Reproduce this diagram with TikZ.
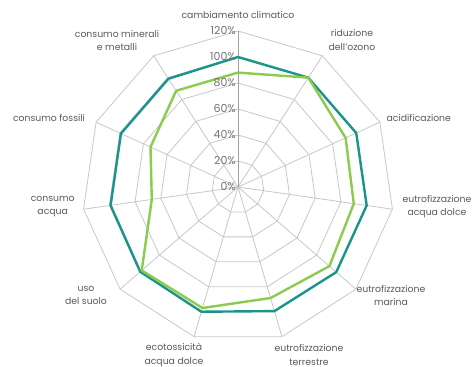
\documentclass[tikz,border=0pt]{standalone}
\usepackage{fontspec}
\setmainfont{Poppins}
\definecolor{serA}{HTML}{1B958A}
\definecolor{serB}{HTML}{8DCB4E}
\definecolor{gridc}{HTML}{C8C8C8}
\definecolor{txtc}{HTML}{5A5A5A}
\begin{document}
\begin{tikzpicture}[x=1pt,y=-1pt,
  gridline/.style={draw=gridc,line width=0.8pt},
  axisline/.style={draw=gridc!80!black,line width=1pt},
  serieA/.style={draw=serA,line width=2.4pt,line join=round},
  serieB/.style={draw=serB,line width=2.4pt,line join=round},
  lbl/.style={font=\fontsize{9.3}{13.4}\selectfont,text=txtc,align=center,inner sep=0pt},
  tick/.style={font=\fontsize{11}{12}\selectfont,text=txtc!85,anchor=east,inner sep=0pt}]
\useasboundingbox (0,0) rectangle (475,367);
\fill[white] (0,0) rectangle (475,367);
\begin{scope}[shift={(238,187)}]
  \coordinate (C) at (0,0);
  % rings
  \foreach \k in {1,...,6} {
    \pgfmathsetmacro{\r}{26*\k}
    \draw[gridline] (0,-\r) \foreach \i in {1,...,10} { -- ({\r*sin(\i*360/11)},{-\r*cos(\i*360/11)}) } -- cycle;
  }
  % spokes
  \foreach \i in {1,...,10} {
    \coordinate (s\i) at ({156*sin(\i*360/11)},{-156*cos(\i*360/11)});
    \draw[gridline] (C) -- (s\i);
  }
  \coordinate (s0) at (0,-156);
  \draw[axisline] (C) -- (s0);
  % series
  \foreach \v [count=\i from 0] in {100,100,100,100,100,99.5,100,99.5,99,99,99} {
    \coordinate (a\i) at ({1.3*\v*sin(\i*360/11)},{-1.3*\v*cos(\i*360/11)});
  }
  \foreach \v [count=\i from 0] in {88,100,91,90,93,89,97,98,67,74,88} {
    \coordinate (b\i) at ({1.3*\v*sin(\i*360/11)},{-1.3*\v*cos(\i*360/11)});
  }
  \draw[serieA] (a0) -- (a1) -- (a2) -- (a3) -- (a4) -- (a5) -- (a6) -- (a7) -- (a8) -- (a9) -- (a10) -- cycle;
  \draw[serieB] (b0) -- (b1) -- (b2) -- (b3) -- (b4) -- (b5) -- (b6) -- (b7) -- (b8) -- (b9) -- (b10) -- cycle;
  % ticks
  \foreach \k in {0,...,6} {
    \pgfmathtruncatemacro{\p}{20*\k}
    \node[tick] (t\k) at (-2,{-26*\k}) {\p\%};
  }
\end{scope}
% labels
\node[lbl] (l0) at (238,15) {cambiamento climatico};
\node[lbl] (l1) at (352,40) {riduzione\\dell’ozono};
\node[lbl,anchor=west] (l2) at (386.5,117.5) {acidificazione};
\node[lbl] (l3) at (437,206.5) {eutrofizzazione\\acqua dolce};
\node[lbl] (l4) at (391,295.5) {eutrofizzazione\\marina};
\node[lbl] (l5) at (309,355) {eutrofizzazione\\terrestre};
\node[lbl] (l6) at (174,355) {ecotossicità\\acqua dolce};
\node[lbl] (l7) at (86,295.5) {uso\\del suolo};
\node[lbl] (l8) at (52.7,206.5) {consumo\\acqua};
\node[lbl] (l9) at (49,117.5) {consumo fossili};
\node[lbl] (l10) at (117,40.5) {consumo minerali\\e metalli};
\end{tikzpicture}
\end{document}
